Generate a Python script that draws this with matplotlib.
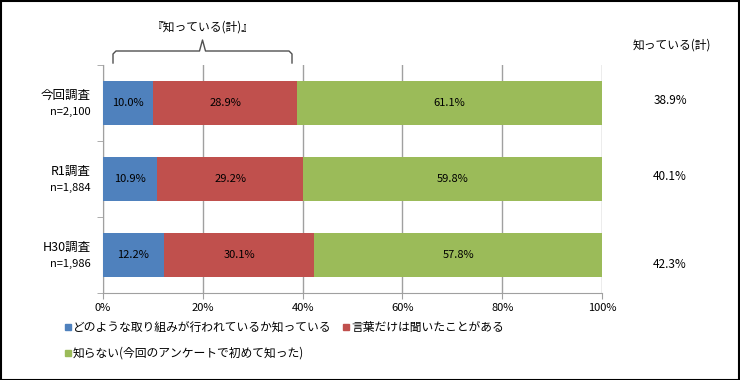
import matplotlib
matplotlib.use("Agg")
import matplotlib.pyplot as plt
from matplotlib.patches import Rectangle
import matplotlib.transforms as mtransforms

plt.rcParams['font.family'] = ['Noto Sans CJK JP', 'DejaVu Sans']

categories = ["今回調査", "R1調査", "H30調査"]
sample_sizes = ["n=2,100", "n=1,884", "n=1,986"]
series_names = ["どのような取り組みが行われているか知っている", "言葉だけは聞いたことがある",
                "知らない(今回のアンケートで初めて知った)"]
known = [10.0, 10.9, 12.2]
heard = [28.9, 29.2, 30.1]
unknown = [61.1, 59.8, 57.8]
total_known = ["38.9%", "40.1%", "42.3%"]
xticks = [0, 20, 40, 60, 80, 100]
colors = ["#4F81BD", "#C0504D", "#9BBB59"]

W, H = 740, 380
fig = plt.figure(figsize=(W / 100, H / 100), dpi=100)
ax = fig.add_axes([103 / W, 1 - 293 / H, (602 - 103) / W, (293 - 65) / H])

ys = list(range(len(categories)))
lefts = [0] * len(categories)
for vals, c, name in zip([known, heard, unknown], colors, series_names):
    ax.barh(ys, vals, left=lefts, height=0.59, color=c, label=name, zorder=3)
    for y, l, v in zip(ys, lefts, vals):
        ax.text(l + v / 2, y, f"{v:.1f}%", ha="center", va="center", fontsize=8, zorder=4)
    lefts = [l + v for l, v in zip(lefts, vals)]

ax.set_xlim(0, 100)
ax.set_ylim(2.5, -0.5)
ax.set_xticks(xticks)
ax.set_xticklabels([f"{t}%" for t in xticks], fontsize=8)
ax.set_yticks(ys)
ax.set_yticklabels([""] * len(ys))
ax.set_yticks([-0.5, 0.5, 1.5, 2.5], minor=True)
ax.tick_params(axis="y", which="major", length=0)
ax.tick_params(axis="y", which="minor", length=4, color="#A0A0A0")
ax.tick_params(axis="x", length=4, color="#A0A0A0", pad=3)
ax.grid(axis="x", color="#A0A0A0", linewidth=1, zorder=0)
for s in ["top", "right"]:
    ax.spines[s].set_visible(False)
for s in ["left", "bottom"]:
    ax.spines[s].set_color("#A0A0A0")

trans = mtransforms.blended_transform_factory(fig.transFigure, ax.transData)
for y, cat, n in zip(ys, categories, sample_sizes):
    fig.text(91 / W, 0, cat, ha="right", va="center", fontsize=9,
             transform=trans + mtransforms.ScaledTranslation(0, 8 / 100, fig.dpi_scale_trans)).set_y(y)
    fig.text(91 / W, 0, n, ha="right", va="center", fontsize=8,
             transform=trans + mtransforms.ScaledTranslation(0, -9 / 100, fig.dpi_scale_trans)).set_y(y)

# brace over the known total
bx0, bx1 = 113 / W, 292 / W
by0, by1, tip = 1 - 63 / H, 1 - 51 / H, 1 - 40 / H
mid = (bx0 + bx1) / 2
r = 3 / W
verts = [(bx0, by0), (bx0, by1 - 3 / H), (bx0 + r, by1), (mid - r, by1),
         (mid, tip), (mid + r, by1), (bx1 - r, by1), (bx1, by1 - 3 / H), (bx1, by0)]
fig.lines.append(plt.Line2D([v[0] for v in verts], [v[1] for v in verts], color="#505050",
                            linewidth=1, transform=fig.transFigure))
fig.text(mid, 1 - 27 / H, "『知っている(計)』", ha="center", va="center", fontsize=8.5)

# right column
fig.text(672 / W, 1 - 45 / H, "知っている(計)", ha="center", va="center", fontsize=8.5)
for t, yp in zip(total_known, [101, 177, 265]):
    fig.text(670 / W, 1 - yp / H, t, ha="center", va="center", fontsize=8.5)

# legend
leg_items = [(65, 327, 0), (343, 327, 1), (65, 353, 2)]
for x, y, i in leg_items:
    fig.patches.append(Rectangle((x / W, 1 - (y + 3) / H), 6 / W, 6 / H, color=colors[i],
                                 transform=fig.transFigure))
    fig.text((x + 8) / W, 1 - y / H, series_names[i], ha="left", va="center", fontsize=8.5)

# outer frame
fig.patches.append(Rectangle((0.5 / W, 0.5 / H), 1 - 1.5 / W, 1 - 1.5 / H, fill=False,
                             edgecolor="black", linewidth=1.5, transform=fig.transFigure))

fig.savefig("out.png", dpi=100)
